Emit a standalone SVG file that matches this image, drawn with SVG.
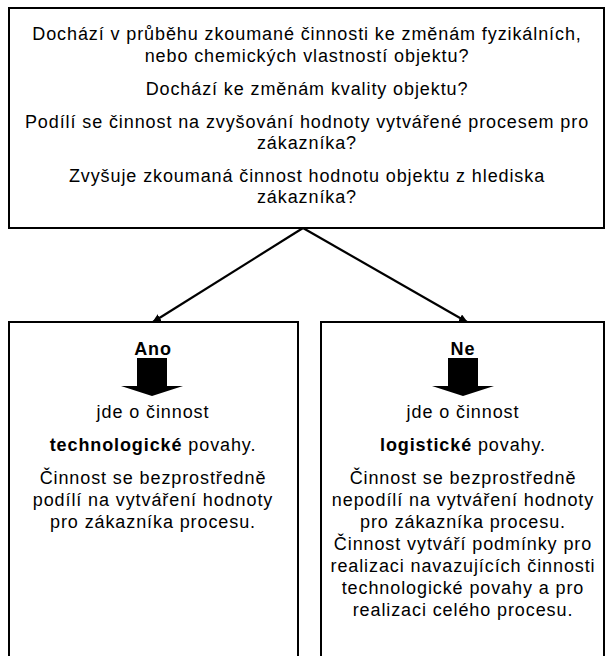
<svg xmlns="http://www.w3.org/2000/svg" width="607" height="656" viewBox="0 0 607 656">
<style>
.box{fill:#fff;stroke:#000;stroke-width:2}
text{font-family:"Liberation Sans",Arial,sans-serif;font-size:18px;letter-spacing:0.9px;fill:#000;text-anchor:middle}
.b{font-weight:bold}
.conn{stroke:#000;stroke-width:2.2;fill:none}
</style>
<defs>
<marker id="ah" markerWidth="9" markerHeight="8" refX="8" refY="4" orient="auto" markerUnits="userSpaceOnUse" viewBox="0 0 9 8">
<path d="M0,0 L9,4 L0,8 z" fill="#000"/>
</marker>
<path id="blk" d="M-15,0 H15 V28 H31 L0,38 L-31,28 H-15 Z" fill="#000"/>
</defs>
<rect width="607" height="656" fill="#fff"/>
<g id="question">
<rect class="box" x="9" y="8" width="595" height="220"/>
<text x="307" y="40">Dochází v průběhu zkoumané činnosti ke změnám fyzikálních,</text>
<text x="307" y="62">nebo chemických vlastností objektu?</text>
<text x="307" y="95">Dochází ke změnám kvality objektu?</text>
<text x="307" y="128">Podílí se činnost na zvyšování hodnoty vytvářené procesem pro</text>
<text x="307" y="149">zákazníka?</text>
<text x="307" y="182">Zvyšuje zkoumaná činnost hodnotu objektu z hlediska</text>
<text x="307" y="203">zákazníka?</text>
</g>
<g id="connectors">
<line class="conn" x1="303" y1="228" x2="153" y2="322" marker-end="url(#ah)"/>
<line class="conn" x1="303" y1="228" x2="467" y2="322" marker-end="url(#ah)"/>
</g>
<g id="yes">
<path class="box" d="M9,660 V322 H298 V660"/>
<text class="b" x="153" y="355">Ano</text>
<use href="#blk" x="152" y="358"/>
<text x="153" y="418">jde o činnost</text>
<text x="153" y="451"><tspan class="b">technologické</tspan> povahy.</text>
<text x="153" y="484">Činnost se bezprostředně</text>
<text x="153" y="506">podílí na vytváření hodnoty</text>
<text x="153" y="528">pro zákazníka procesu.</text>
</g>
<g id="no">
<path class="box" d="M321,660 V322 H604 V660"/>
<text class="b" x="463" y="355">Ne</text>
<use href="#blk" x="463" y="358"/>
<text x="463" y="418">jde o činnost</text>
<text x="463" y="451"><tspan class="b">logistické</tspan> povahy.</text>
<text x="463" y="484">Činnost se bezprostředně</text>
<text x="463" y="506">nepodílí na vytváření hodnoty</text>
<text x="463" y="528">pro zákazníka procesu.</text>
<text x="463" y="550">Činnost vytváří podmínky pro</text>
<text x="463" y="572">realizaci navazujících činnosti</text>
<text x="463" y="594">technologické povahy a pro</text>
<text x="463" y="616">realizaci celého procesu.</text>
</g>
</svg>
